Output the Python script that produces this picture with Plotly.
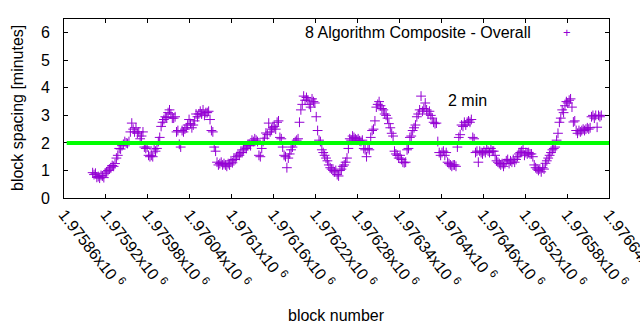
import numpy as np
import plotly.graph_objects as go

# Block spacing (minutes) of the 8-algorithm composite, one sample every 2 blocks
first_block = 1975901
block_step = 2
spacing = [
    0.92, 0.85, 0.90, 0.75, 0.78, 0.72, 0.82, 0.80, 0.74, 0.90,
    0.95, 1.00, 1.05, 1.10, 1.18, 1.15, 1.25, 1.45, 1.55, 1.80,
    1.78, 1.90, 1.95, 2.05, 2.00, 1.98, 2.05, 2.40, 2.72, 2.50,
    2.40, 2.55, 2.35, 2.40, 2.15, 2.25, 2.40, 1.85, 1.80, 1.85,
    1.55, 1.50, 1.55, 1.50, 1.78, 1.70, 1.80, 2.05, 2.20, 2.60,
    2.75, 2.85, 2.95, 2.92, 3.10, 3.20, 3.05, 2.90, 2.90, 2.95,
    2.40, 2.45, 1.95, 1.85, 2.45, 2.40, 2.50, 2.55, 2.65, 2.85,
    2.70, 2.55, 2.65, 2.80, 3.05, 2.95, 3.05, 3.15, 3.05, 3.20,
    3.00, 3.10, 3.10, 3.15, 2.85, 2.45, 2.40, 1.85, 1.70, 1.30,
    1.20, 1.25, 1.30, 1.20, 1.25, 1.20, 1.15, 1.25, 1.20, 1.35,
    1.28, 1.40, 1.40, 1.50, 1.60, 1.55, 1.65, 1.65, 1.75, 1.85,
    1.80, 1.90, 1.95, 1.90, 2.10, 2.05, 2.15, 2.10, 2.05, 1.55,
    1.50, 1.80, 2.05, 2.17, 2.36, 2.30, 2.72, 2.40, 2.50, 2.55,
    2.60, 2.50, 2.75, 2.80, 2.20, 2.15, 1.85, 1.55, 1.50, 1.10,
    1.45, 1.60, 1.75, 1.85, 2.00, 2.05, 2.10, 2.15, 2.75, 3.20,
    3.40, 3.70, 3.55, 3.65, 3.55, 3.40, 3.30, 3.60, 3.50, 3.45,
    2.95, 2.45, 2.10, 2.05, 1.75, 1.65, 1.55, 1.45, 1.35, 1.20,
    1.10, 1.05, 1.00, 0.95, 1.00, 0.85, 0.80, 1.00, 1.05, 1.15,
    1.20, 1.30, 1.45, 1.80, 2.15, 2.10, 2.25, 2.20, 2.15, 2.10,
    2.15, 2.08, 2.05, 2.10, 1.80, 1.75, 1.50, 1.80, 1.75, 2.20,
    2.45, 2.50, 2.80, 3.30, 3.40, 3.50, 3.35, 3.25, 3.20, 3.05,
    3.00, 2.90, 2.70, 2.55, 2.35, 2.25, 1.70, 1.60, 1.55, 1.45,
    1.55, 1.40, 1.30, 1.28, 1.30, 1.75, 1.80, 2.20, 2.25, 2.45,
    2.55, 2.65, 2.95, 3.05, 3.20, 3.70, 3.15, 3.25, 3.45, 3.20,
    3.05, 3.15, 3.00, 2.90, 2.75, 2.70, 2.72, 2.05, 1.65, 1.55,
    1.65, 1.70, 1.55, 1.65, 1.30, 1.25, 1.20, 1.15, 1.20, 1.20,
    1.15, 1.85, 2.20, 2.30, 2.65, 2.60, 2.75, 2.65, 2.75, 2.80,
    2.75, 2.85, 2.20, 2.15, 1.65, 1.70, 1.30, 1.70, 1.65, 1.60,
    1.70, 1.65, 1.80, 1.70, 1.65, 1.80, 1.70, 1.70, 1.55, 1.35,
    1.30, 1.25, 1.20, 1.25, 1.15, 1.25, 1.35, 1.40, 1.25, 1.35,
    1.30, 1.40, 1.30, 1.40, 1.50, 1.60, 1.65, 1.70, 1.80, 1.55,
    1.65, 1.60, 1.65, 1.60, 1.60, 1.50, 1.20, 1.10, 1.05, 1.00,
    1.05, 0.95, 1.10, 1.05, 1.26, 1.35, 1.45, 1.55, 1.65, 1.75,
    1.80, 1.85, 2.10, 2.35, 2.75, 2.90, 3.20, 3.10, 3.35, 3.50,
    3.45, 3.55, 3.60, 3.30, 2.76, 2.80, 2.45, 2.35, 2.45, 2.40,
    2.45, 2.50, 2.45, 2.50, 2.55, 2.50, 2.55, 2.95, 3.00, 2.90,
    3.00, 2.57, 3.00, 2.95, 3.00,
]
blocks = first_block + block_step * np.arange(len(spacing))

target_minutes = 2.0
series_name = "8 Algorithm Composite - Overall"
target_label = "2 min"

x_ticks = [1975860 + 60 * i for i in range(14)]
x_ticktext = [f"{v / 1e6:.6g}x10 <sup>6</sup>" for v in x_ticks]
y_ticks = [0, 1, 2, 3, 4, 5, 6]

purple = "#9400d3"
font = "Liberation Sans, Arial, sans-serif"

fig = go.Figure()
fig.add_trace(go.Scatter(
    x=blocks, y=spacing, mode="markers", name=series_name,
    marker=dict(symbol="cross-thin", size=7, line=dict(width=1, color=purple), color=purple),
    showlegend=False, hoverinfo="x+y",
))

# horizontal 2-minute target line, drawn on top of the points
fig.add_shape(type="line", xref="paper", yref="y", x0=0.005, x1=1,
              y0=target_minutes, y1=target_minutes,
              line=dict(color="#00ff00", width=4), layer="above")

fig.add_annotation(x=1976406, y=3.53, xref="x", yref="y", text=target_label,
                   showarrow=False, xanchor="left", yanchor="middle",
                   font=dict(size=16, color="black", family=font))

# key: label right-justified, sample symbol to its right
fig.add_annotation(x=0.8606, y=0.923, xref="paper", yref="paper", text=series_name,
                   showarrow=False, xanchor="right", yanchor="middle",
                   font=dict(size=16, color="black", family=font))
fig.add_annotation(x=0.923, y=0.923, xref="paper", yref="paper", text="+",
                   showarrow=False, xanchor="center", yanchor="middle",
                   font=dict(size=13, color=purple, family=font))

fig.add_annotation(x=0.5, y=-0.654, xref="paper", yref="paper", text="block number",
                   showarrow=False, xanchor="center", yanchor="middle",
                   font=dict(size=16, color="black", family=font))
fig.add_annotation(x=-0.0853, y=0.5, xref="paper", yref="paper",
                   text="block spacing [minutes]", textangle=-90,
                   showarrow=False, xanchor="center", yanchor="middle",
                   font=dict(size=16, color="black", family=font))

axis_common = dict(showline=True, linecolor="black", linewidth=1, mirror="ticks",
                   ticks="inside", ticklen=4, tickcolor="black", tickwidth=1,
                   showgrid=False, zeroline=False,
                   tickfont=dict(size=16, color="black", family=font))

fig.update_xaxes(range=[1975860, 1976640], tickvals=x_ticks, ticktext=x_ticktext,
                 tickangle=52, ticklabeloverflow="allow", **axis_common)
fig.update_yaxes(range=[0, 6.5], tickvals=y_ticks, ticklabelstandoff=10, **axis_common)

fig.update_layout(
    width=640, height=330, autosize=False,
    margin=dict(l=64, r=31, t=19, b=132, autoexpand=False),
    paper_bgcolor="white", plot_bgcolor="white",
    showlegend=False,
)

fig.write_html("out.html")
